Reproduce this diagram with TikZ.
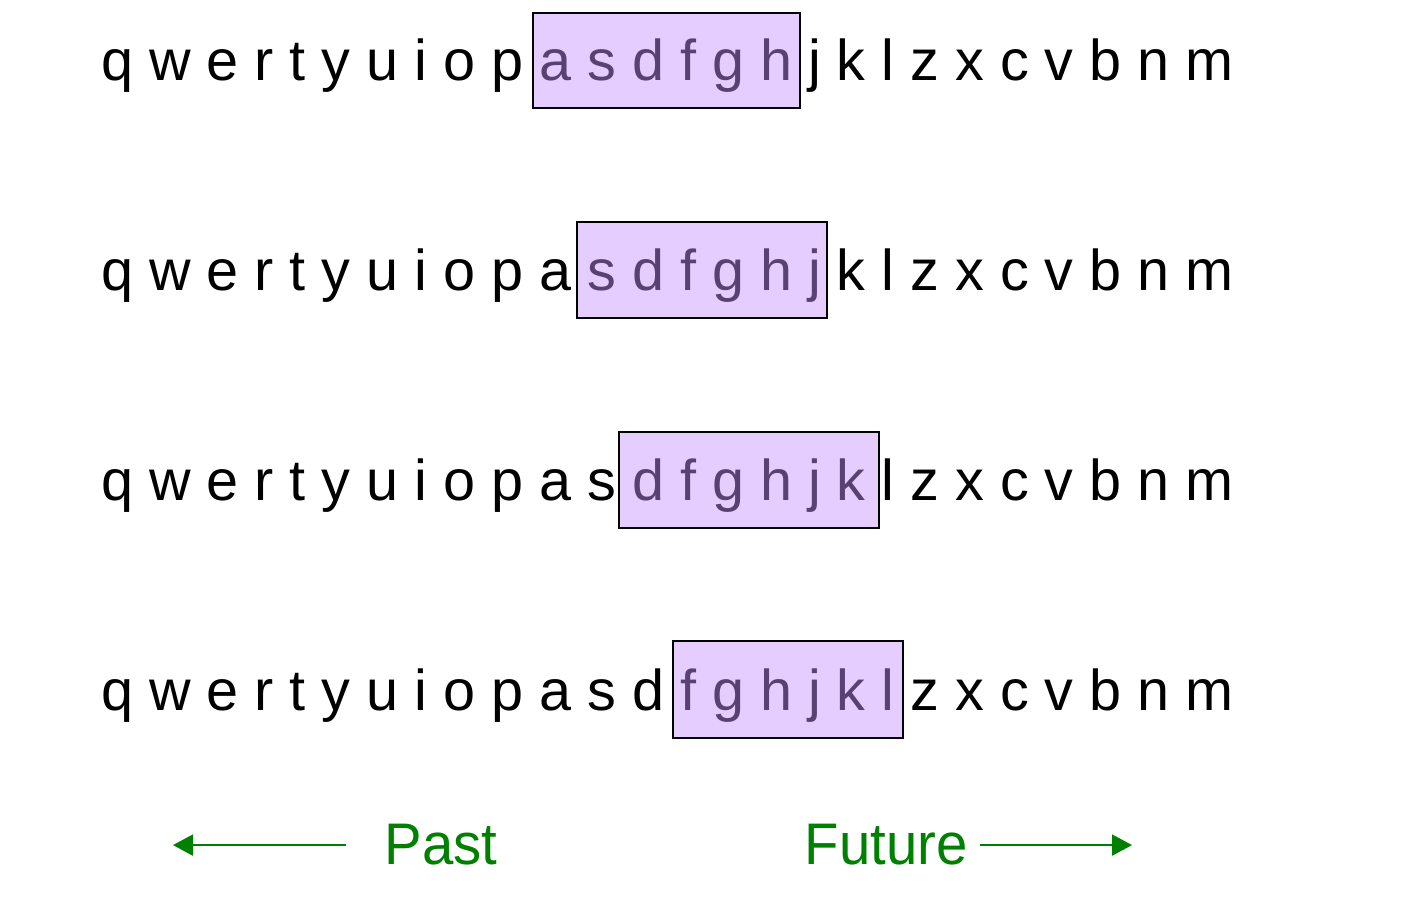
\documentclass[tikz,border=0pt]{standalone}
\usepackage{fontspec}
\setmainfont{Liberation Sans}
\newfontfamily\narrowsans[FakeStretch=0.96]{Liberation Sans}
\usepackage{tikz}
\usetikzlibrary{arrows.meta}
\definecolor{windowfill}{RGB}{200,145,255}
\definecolor{timegreen}{RGB}{0,128,0}

\begin{document}
\begin{tikzpicture}[
	letters/.style={anchor=base west,inner sep=0pt,font=\fontsize{16.38}{19}\selectfont},
	window/.style={draw=black,line width=0.6pt,fill=windowfill,fill opacity=0.45},
	timelabel/.style={anchor=base west,inner sep=0pt,text=timegreen,font=\narrowsans\fontsize{16.7}{20}\selectfont},
	timeline/.style={timegreen,line width=0.6pt,-{Triangle[length=0.2cm,width=0.21cm]}}]
	\useasboundingbox (0,0) rectangle (14.08,-9.22);
	\node[letters] (row1) at (1.004,-0.81) {q w e r t y u i o p a s d f g h j k l z x c v b n m};
	\node[letters] (row2) at (1.004,-2.91) {q w e r t y u i o p a s d f g h j k l z x c v b n m};
	\node[letters] (row3) at (1.004,-5.01) {q w e r t y u i o p a s d f g h j k l z x c v b n m};
	\node[letters] (row4) at (1.004,-7.11) {q w e r t y u i o p a s d f g h j k l z x c v b n m};
	\draw[window] (5.33,-0.13) rectangle (8.00,-1.08);
	\draw[window] (5.77,-2.22) rectangle (8.27,-3.18);
	\draw[window] (6.19,-4.32) rectangle (8.79,-5.28);
	\draw[window] (6.73,-6.41) rectangle (9.03,-7.38);
	\node[timelabel] (past) at (3.84,-8.65) {Past};
	\node[timelabel] (future) at (8.04,-8.65) {Future};
	\coordinate (pastend) at (1.73,-8.44);
	\coordinate (futureend) at (11.32,-8.44);
	\draw[timeline] ([xshift=-0.38cm]past.west) -- (past.west -| pastend);
	\draw[timeline] ([xshift=0.12cm]future.east) -- (future.east -| futureend);
\end{tikzpicture}
\end{document}
